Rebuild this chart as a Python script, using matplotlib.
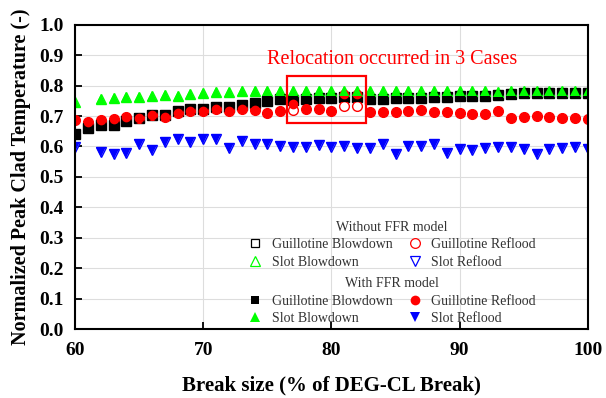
import numpy as np
import matplotlib
matplotlib.use("Agg")
import matplotlib.pyplot as plt
from matplotlib.lines import Line2D
from matplotlib.patches import Rectangle

nan = np.nan

# Break size (% of DEG-CL break)
break_size = list(range(60, 101))

# With FFR model
guillotine_blowdown_ffr = [
    0.642, 0.660, 0.669, 0.671, 0.684, 0.693, 0.704, 0.704, 0.717, 0.723,
    0.723, 0.731, 0.729, 0.736, 0.744, 0.750, 0.755, 0.753, 0.756, 0.758,
    0.759, 0.762, 0.762, 0.757, 0.757, 0.759, 0.759, 0.760, 0.763, 0.763,
    0.765, 0.766, 0.766, 0.768, 0.773, 0.775, 0.775, 0.775, 0.776, 0.775,
    0.775]
guillotine_reflood_ffr = [
    0.687, 0.680, 0.687, 0.690, 0.698, 0.695, 0.704, 0.698, 0.709, 0.715,
    0.715, 0.723, 0.715, 0.722, 0.720, 0.709, 0.717, 0.741, 0.724, 0.724,
    0.716, 0.771, 0.771, 0.713, 0.713, 0.713, 0.715, 0.719, 0.713, 0.713,
    0.711, 0.708, 0.708, 0.717, 0.695, 0.697, 0.699, 0.697, 0.695, 0.695,
    0.689]
slot_blowdown_ffr = [
    0.747, nan, 0.756, 0.758, 0.764, 0.764, 0.767, 0.769, 0.767, 0.772,
    0.775, 0.780, 0.778, 0.782, 0.782, 0.782, 0.783, 0.782, 0.782, 0.782,
    0.782, 0.783, 0.783, 0.781, 0.781, 0.781, 0.781, 0.781, 0.783, 0.783,
    0.781, 0.781, 0.781, 0.779, 0.781, 0.781, 0.781, 0.783, 0.783, 0.781,
    0.781]
slot_reflood_ffr = [
    0.598, nan, 0.582, 0.576, 0.578, 0.609, 0.589, 0.615, 0.626, 0.615,
    0.626, 0.623, 0.596, 0.618, 0.607, 0.607, 0.601, 0.598, 0.598, 0.604,
    0.598, 0.600, 0.596, 0.596, 0.607, 0.574, 0.600, 0.600, 0.609, 0.578,
    0.593, 0.589, 0.596, 0.598, 0.598, 0.593, 0.576, 0.593, 0.596, 0.598,
    0.593]

# Without FFR model (same results except where relocation occurred)
guillotine_blowdown_base = guillotine_blowdown_ffr
slot_blowdown_base = slot_blowdown_ffr
slot_reflood_base = slot_reflood_ffr
guillotine_reflood_base = [
    0.687, 0.680, 0.687, 0.690, 0.698, 0.695, 0.704, 0.698, 0.709, 0.715,
    0.715, 0.723, 0.715, 0.722, 0.720, 0.709, 0.717, 0.719, 0.724, 0.724,
    0.716, 0.732, 0.732, 0.713, 0.713, 0.713, 0.715, 0.719, 0.713, 0.713,
    0.711, 0.708, 0.708, 0.717, 0.695, 0.697, 0.699, 0.697, 0.695, 0.695,
    0.689]

# Region of break sizes where relocation occurred
relocation_span = (76.5, 82.7)
relocation_band = (0.676, 0.830)

serif = ["Liberation Serif", "DejaVu Serif"]
plt.rcParams["font.family"] = serif

fig = plt.figure(figsize=(6.06, 3.98), dpi=100)
ax = fig.add_axes([0.124, 0.173, 0.846, 0.765])

x = np.array(break_size)
open_kw = dict(linestyle="none", markerfacecolor="white", markeredgewidth=1.0)
ax.plot(x, guillotine_blowdown_base, marker="s", markersize=6.5,
        markeredgecolor="black", **open_kw)
ax.plot(x, slot_blowdown_base, marker="^", markersize=7.5,
        markeredgecolor="#00ff00", **open_kw)
ax.plot(x, slot_reflood_base, marker="v", markersize=7.5,
        markeredgecolor="blue", **open_kw)
ax.plot(x, guillotine_reflood_base, marker="o", markersize=7,
        markeredgecolor="red", **open_kw)

ax.plot(x, guillotine_blowdown_ffr, marker="s", markersize=6.5, linestyle="none",
        color="black", markeredgewidth=0)
ax.plot(x, guillotine_reflood_ffr, marker="o", markersize=7, linestyle="none",
        color="red", markeredgewidth=0)
ax.plot(x, slot_blowdown_ffr, marker="^", markersize=7.5, linestyle="none",
        color="#00ff00", markeredgewidth=0)
ax.plot(x, slot_reflood_ffr, marker="v", markersize=7.5, linestyle="none",
        color="blue", markeredgewidth=0)

ax.add_patch(Rectangle((relocation_span[0], relocation_band[0]),
                       relocation_span[1] - relocation_span[0],
                       relocation_band[1] - relocation_band[0],
                       fill=False, edgecolor="red", linewidth=1.6, zorder=5))
ax.text(84.7, 0.885, "Relocation occurred in 3 Cases", color="red",
        fontsize=14.5, ha="center", va="center")

ax.set_xlim(60, 100)
ax.set_ylim(0.0, 1.0)
ax.set_xticks([60, 70, 80, 90, 100])
ax.set_yticks(np.arange(0, 1.01, 0.1))
ax.set_yticklabels([f"{v:.1f}" for v in np.arange(0, 1.01, 0.1)])
ax.grid(True, color="#dddddd", linewidth=0.8)
ax.set_axisbelow(True)
ax.tick_params(direction="in", length=5, width=1.3, labelsize=14)
ax.tick_params(axis="x", pad=9)
ax.tick_params(axis="y", pad=8)
for lab in ax.get_xticklabels() + ax.get_yticklabels():
    lab.set_fontweight("bold")
for sp in ax.spines.values():
    sp.set_linewidth(1.5)

ax.set_xlabel("Break size (% of DEG-CL Break)", fontsize=15,
              fontweight="bold", labelpad=12)
ax.set_ylabel("Normalized Peak Clad Temperature (-)", fontsize=14.5,
              fontweight="bold", labelpad=6)


def group_legend(title, filled, anchor):
    def h(m, c, ms):
        if filled:
            return Line2D([], [], linestyle="none", marker=m, markersize=ms,
                          color=c, markeredgewidth=0)
        return Line2D([], [], linestyle="none", marker=m, markersize=ms,
                      markerfacecolor="white", markeredgecolor=c,
                      markeredgewidth=0.9)
    handles = [h("s", "black", 6), h("^", "#00ff00", 7),
               h("o", "red", 7), h("v", "blue", 7)]
    labels = ["Guillotine Blowdown", "Slot Blowdown",
              "Guillotine Reflood", "Slot Reflood"]
    leg = ax.legend(handles, labels, title=title, ncol=2, frameon=False,
                    loc="upper center", bbox_to_anchor=anchor,
                    fontsize=10, title_fontsize=10, handlelength=1.2,
                    handletextpad=0.6, columnspacing=1.0, labelspacing=0.3,
                    borderpad=0.1)
    for t in leg.get_texts():
        t.set_color("#333333")
    leg.get_title().set_color("#333333")
    return leg


leg1 = group_legend("Without FFR model", False, (0.617, 0.382))
ax.add_artist(leg1)
group_legend("With FFR model", True, (0.617, 0.197))

fig.savefig("out.png", dpi=100)
